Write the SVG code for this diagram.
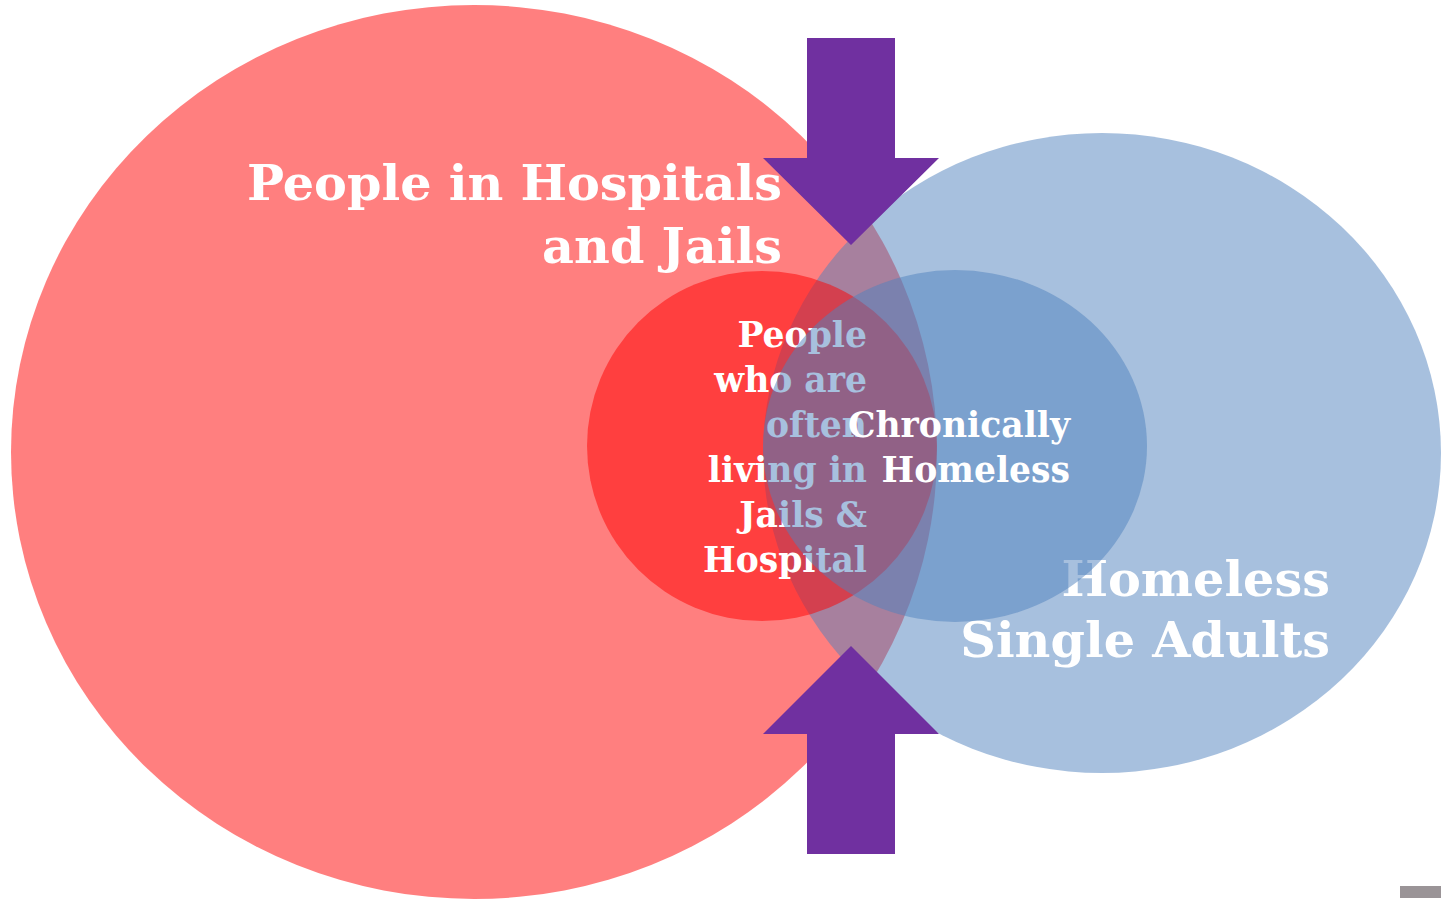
<svg xmlns="http://www.w3.org/2000/svg" width="1441" height="901" viewBox="0 0 1441 901">
<style>
.red{fill:#FF0000;fill-opacity:0.5}
.blue{fill:#4F81BD;fill-opacity:0.5}
.big{font-family:"DejaVu Serif","Liberation Serif",serif;font-weight:bold;font-size:49.3px;fill:#FFFFFF;text-anchor:end}
.small{font-family:"DejaVu Serif","Liberation Serif",serif;font-weight:bold;font-size:34.6px;fill:#FFFFFF;text-anchor:end}
.arrow{fill:#7030A0}
</style>
<rect width="1441" height="901" fill="#FFFFFF"/>
<g id="hospitals-jails">
<ellipse class="red" cx="474" cy="452" rx="463" ry="447"/>
</g>
<g id="homeless-single-adults-shape">
<ellipse class="blue" cx="1102" cy="453" rx="339" ry="320"/>
</g>
<g id="often-jails-hospital">
<circle class="red" cx="762" cy="446" r="175"/>
<text class="small" x="867" y="347">People</text>
<text class="small" x="867" y="392">who are</text>
<text class="small" x="867" y="437">often</text>
<text class="small" x="867" y="482">living in</text>
<text class="small" x="867" y="527">Jails &amp;</text>
<text class="small" x="867" y="572">Hospital</text>
</g>
<g id="homeless-single-adults-label">
<text class="big" x="1330" y="596">Homeless</text>
<text class="big" x="1330" y="657">Single Adults</text>
</g>
<g id="chronically-homeless">
<ellipse class="blue" cx="955" cy="446" rx="192" ry="176"/>
<text class="small" x="1070" y="437">Chronically</text>
<text class="small" x="1070" y="482">Homeless</text>
</g>
<g id="hospitals-jails-label">
<text class="big" x="782" y="200">People in Hospitals</text>
<text class="big" x="782" y="263">and Jails</text>
</g>
<g id="connectors">
<polygon class="arrow" points="807,38 895,38 895,158 939,158 851,245 763,158 807,158"/>
<polygon class="arrow" points="807,854 895,854 895,734 939,734 851,646 763,734 807,734"/>
</g>
<rect x="1400" y="886" width="41" height="12" fill="#9A9497"/>
</svg>
